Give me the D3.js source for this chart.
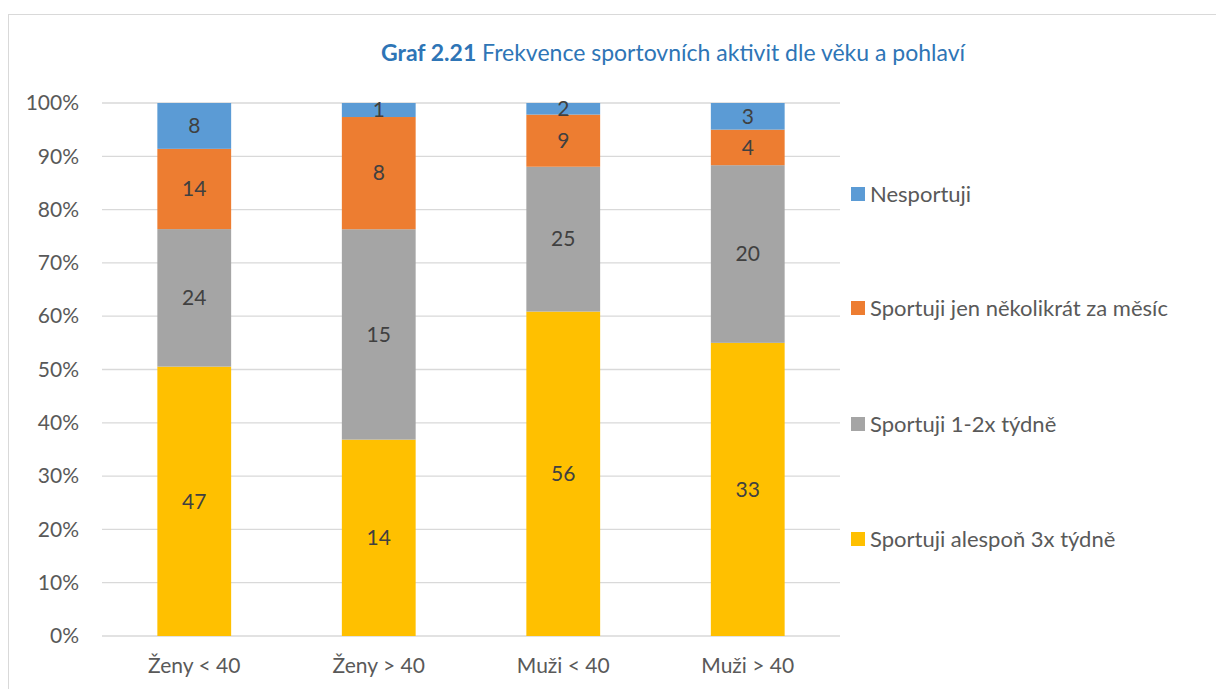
<!DOCTYPE html>
<html><head><meta charset="utf-8">
<script src="https://cdn.jsdelivr.net/npm/d3@7"></script>
<style>body{margin:0;background:#fff}svg text{font-family:Lato,"Open Sans",sans-serif}</style>
</head><body>
<svg id="c" width="1216" height="689"></svg>
<script>
const categories = ["Ženy < 40", "Ženy > 40", "Muži < 40", "Muži > 40"];
const seriesNames = ["Sportuji alespoň 3x týdně", "Sportuji 1-2x týdně", "Sportuji jen několikrát za měsíc", "Nesportuji"];
const alespon3x = [47, 14, 56, 33];
const jedenaz2x = [24, 15, 25, 20];
const nekolikrat = [14, 8, 9, 4];
const nesportuji = [8, 1, 2, 3];
const colors = ["#FFC000", "#A5A5A5", "#ED7D31", "#5B9BD5"];
const yTicks = [0, 0.1, 0.2, 0.3, 0.4, 0.5, 0.6, 0.7, 0.8, 0.9, 1.0];

const seriesVals = [alespon3x, jedenaz2x, nekolikrat, nesportuji];
const svg = d3.select("#c");
const W = 1216, H = 689;
const m = {l: 102, r: 840, t: 103, b: 636};

svg.append("rect").attr("x", 8.5).attr("y", 14.5).attr("width", W).attr("height", H)
  .attr("fill", "#fff").attr("stroke", "#d9d9d9");

const x = d3.scaleBand().domain(categories).range([m.l, m.r]).paddingInner(0.6).paddingOuter(0.3);
const y = d3.scaleLinear().domain([0, 1]).range([m.b, m.t]);

// gridlines
svg.append("g").selectAll("line").data(yTicks).join("line")
  .attr("x1", m.l).attr("x2", m.r).attr("y1", d => y(d)).attr("y2", d => y(d))
  .attr("stroke", "#d9d9d9").attr("stroke-width", 1.3);

// y tick labels
const yAxis = d3.axisLeft(y).tickValues(yTicks).tickFormat(d3.format(".0%")).tickSize(0).tickPadding(23);
const gy = svg.append("g").attr("transform", `translate(${m.l},0)`).call(yAxis);
gy.select(".domain").remove();
gy.selectAll("text").attr("fill", "#595959").style("font-size", "21px");

// x axis labels
const xAxis = d3.axisBottom(x).tickSize(0).tickPadding(22);
const gx = svg.append("g").attr("transform", `translate(0,${m.b})`).call(xAxis);
gx.select(".domain").remove();
gx.selectAll("text").attr("fill", "#595959").style("font-size", "21px");

// stacked data
const rows = categories.map((c, i) => {
  const o = {cat: c};
  seriesNames.forEach((s, j) => o[s] = seriesVals[j][i]);
  return o;
});
const stack = d3.stack().keys(seriesNames).offset(d3.stackOffsetExpand);
const stacked = stack(rows);

const g = svg.append("g");
stacked.forEach((layer, j) => {
  g.selectAll(null).data(layer).join("rect")
    .attr("x", d => x(d.data.cat)).attr("width", x.bandwidth())
    .attr("y", d => y(d[1])).attr("height", d => y(d[0]) - y(d[1]))
    .attr("fill", colors[j]);
  g.selectAll(null).data(layer).join("text")
    .attr("x", d => x(d.data.cat) + x.bandwidth() / 2)
    .attr("y", d => (y(d[0]) + y(d[1])) / 2)
    .attr("dy", "0.35em").attr("text-anchor", "middle")
    .attr("fill", "#404040").style("font-size", "21px")
    .text(d => d.data[layer.key]);
});

// title
const t = svg.append("text").attr("x", 673).attr("y", 61).attr("text-anchor", "middle")
  .attr("fill", "#2E75B6").style("font-size", "23px");
t.append("tspan").attr("font-weight", "bold").text("Graf 2.21");
t.append("tspan").text(" Frekvence sportovních aktivit dle věku a pohlaví");

// legend
const legY = [194, 308, 424, 539];
const legOrder = [3, 2, 1, 0];
const lg = svg.append("g");
legOrder.forEach((j, k) => {
  lg.append("rect").attr("x", 851).attr("y", legY[k] - 7).attr("width", 14).attr("height", 14).attr("fill", colors[j]);
  lg.append("text").attr("x", 870).attr("y", legY[k]).attr("dy", "0.35em")
    .attr("fill", "#595959").style("font-size", "22px").text(seriesNames[j]);
});
</script>
</body></html>
